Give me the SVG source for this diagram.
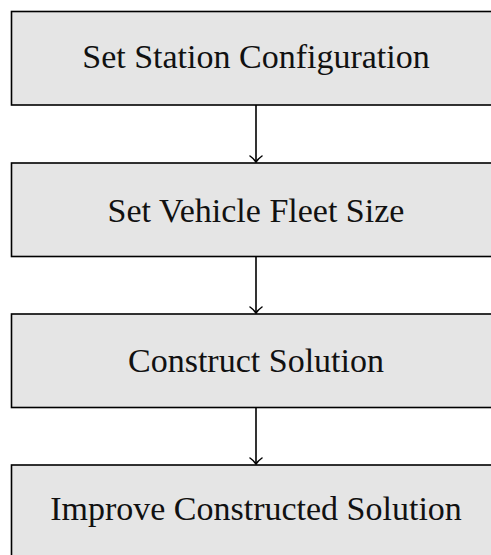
<svg xmlns="http://www.w3.org/2000/svg" width="491" height="555" viewBox="0 0 491 555">
  <style>
    .box { fill: #e5e5e5; stroke: #000; stroke-width: 1.6; }
    .lbl { font-family: "Liberation Serif", "DejaVu Serif", serif; font-size: 34px; fill: #111; text-anchor: middle; }
    .edge { stroke: #000; stroke-width: 1.6; fill: none; }
  </style>
  <defs>
    <!-- open curved "to" tip -->
    <marker id="to" viewBox="-8 -7 10 14" markerWidth="10" markerHeight="14" refX="0" refY="0" orient="auto" markerUnits="userSpaceOnUse">
      <path d="M -6 -6 C -3.5 -2.5, -1.2 -0.7, 0 0 C -1.2 0.7, -3.5 2.5, -6 6" fill="none" stroke="#000" stroke-width="1.5" stroke-linecap="round"/>
    </marker>
  </defs>
  <rect width="491" height="555" fill="#fff"/>

  <g id="connectors">
    <line class="edge" x1="256" y1="105" x2="256" y2="162" marker-end="url(#to)"/>
    <line class="edge" x1="256" y1="256.5" x2="256" y2="313" marker-end="url(#to)"/>
    <line class="edge" x1="256" y1="407.5" x2="256" y2="464" marker-end="url(#to)"/>
  </g>

  <g id="station-config">
    <rect class="box" x="11.5" y="11.5" width="490" height="93.5"/>
    <text class="lbl" x="256" y="67.5">Set Station Configuration</text>
  </g>
  <g id="fleet-size">
    <rect class="box" x="11.5" y="163" width="490" height="93.5"/>
    <text class="lbl" x="256" y="221.5">Set Vehicle Fleet Size</text>
  </g>
  <g id="construct">
    <rect class="box" x="11.5" y="314" width="490" height="93.5"/>
    <text class="lbl" x="256" y="372">Construct Solution</text>
  </g>
  <g id="improve">
    <rect class="box" x="11.5" y="465" width="490" height="93.5"/>
    <text class="lbl" x="256" y="520">Improve Constructed Solution</text>
  </g>
</svg>
